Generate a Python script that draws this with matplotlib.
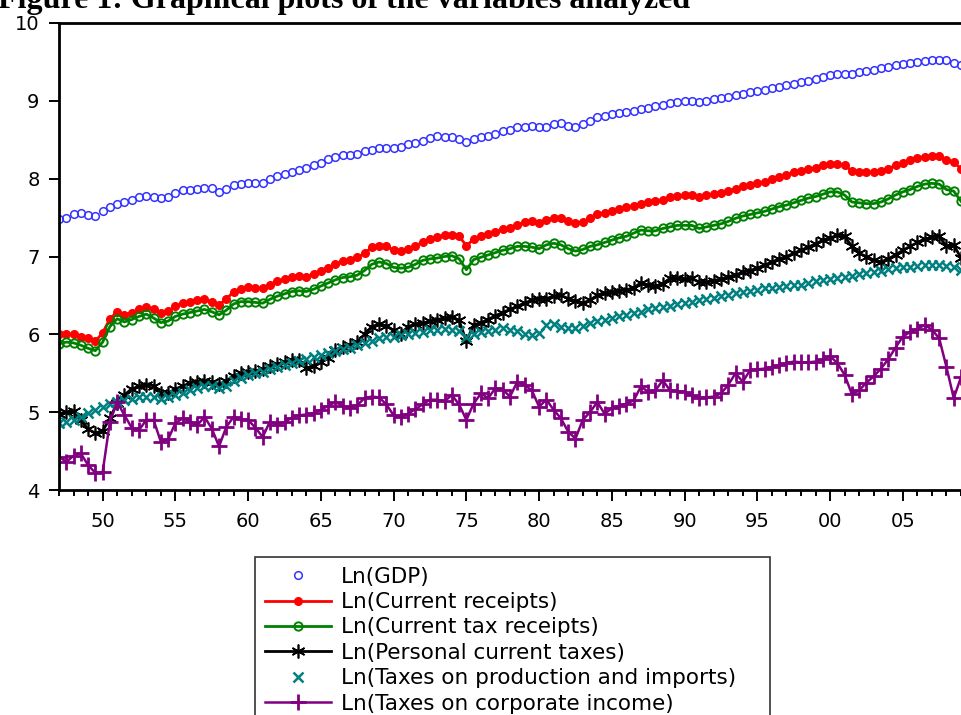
import matplotlib
matplotlib.use("Agg")
import matplotlib.pyplot as plt
import numpy as np

plt.rcParams['font.family'] = ['DejaVu Sans']

# half-yearly readings, 1947.0 to 2009.0
start_year = 1947.0

gdp = [7.48, 7.50, 7.54, 7.56, 7.53, 7.52, 7.58, 7.64, 7.68, 7.70,
       7.72, 7.76, 7.78, 7.77, 7.75, 7.77, 7.82, 7.85, 7.86, 7.87,
       7.88, 7.88, 7.83, 7.87, 7.92, 7.93, 7.95, 7.94, 7.94, 7.99,
       8.03, 8.06, 8.08, 8.11, 8.14, 8.17, 8.20, 8.25, 8.28, 8.30,
       8.30, 8.32, 8.35, 8.37, 8.39, 8.40, 8.40, 8.41, 8.44, 8.46,
       8.49, 8.52, 8.55, 8.54, 8.53, 8.51, 8.47, 8.51, 8.53, 8.55,
       8.58, 8.61, 8.63, 8.66, 8.67, 8.68, 8.67, 8.66, 8.70, 8.71,
       8.68, 8.67, 8.70, 8.74, 8.79, 8.81, 8.83, 8.85, 8.86, 8.87,
       8.89, 8.91, 8.93, 8.95, 8.97, 8.99, 9.00, 9.00, 8.98, 9.00,
       9.02, 9.04, 9.05, 9.07, 9.09, 9.11, 9.12, 9.14, 9.16, 9.18,
       9.20, 9.22, 9.24, 9.26, 9.28, 9.30, 9.33, 9.35, 9.35, 9.35,
       9.37, 9.38, 9.40, 9.42, 9.44, 9.46, 9.47, 9.48, 9.50, 9.51,
       9.52, 9.53, 9.52, 9.49, 9.46]

receipts = [6.00, 6.01, 6.00, 5.97, 5.95, 5.91, 6.02, 6.20, 6.29, 6.25,
            6.28, 6.32, 6.35, 6.32, 6.27, 6.30, 6.36, 6.40, 6.42, 6.44,
            6.45, 6.42, 6.38, 6.45, 6.55, 6.58, 6.61, 6.60, 6.59, 6.64,
            6.68, 6.71, 6.74, 6.75, 6.74, 6.78, 6.82, 6.85, 6.90, 6.94,
            6.96, 6.99, 7.04, 7.12, 7.14, 7.13, 7.08, 7.07, 7.09, 7.13,
            7.19, 7.22, 7.25, 7.27, 7.28, 7.26, 7.14, 7.22, 7.26, 7.29,
            7.32, 7.35, 7.37, 7.41, 7.44, 7.45, 7.43, 7.47, 7.50, 7.49,
            7.46, 7.43, 7.44, 7.49, 7.54, 7.56, 7.58, 7.61, 7.63, 7.65,
            7.68, 7.70, 7.71, 7.73, 7.76, 7.78, 7.79, 7.79, 7.77, 7.79,
            7.80, 7.82, 7.84, 7.87, 7.90, 7.92, 7.94, 7.96, 7.99, 8.02,
            8.05, 8.08, 8.10, 8.12, 8.14, 8.17, 8.19, 8.19, 8.17, 8.10,
            8.09, 8.08, 8.08, 8.10, 8.13, 8.17, 8.20, 8.24, 8.27, 8.28,
            8.29, 8.29, 8.24, 8.21, 8.13]

tax_receipts = [5.88, 5.90, 5.89, 5.86, 5.82, 5.79, 5.90, 6.10, 6.20, 6.16,
                6.19, 6.23, 6.26, 6.21, 6.15, 6.17, 6.23, 6.26, 6.28, 6.30,
                6.32, 6.29, 6.25, 6.31, 6.39, 6.42, 6.42, 6.41, 6.40, 6.45,
                6.49, 6.52, 6.55, 6.56, 6.55, 6.58, 6.62, 6.66, 6.70, 6.73,
                6.74, 6.76, 6.82, 6.90, 6.93, 6.91, 6.86, 6.85, 6.86, 6.90,
                6.95, 6.97, 6.98, 7.00, 7.01, 6.97, 6.83, 6.96, 6.99, 7.02,
                7.05, 7.08, 7.10, 7.13, 7.13, 7.12, 7.10, 7.15, 7.17, 7.15,
                7.10, 7.07, 7.09, 7.13, 7.15, 7.18, 7.21, 7.24, 7.26, 7.30,
                7.34, 7.33, 7.33, 7.36, 7.38, 7.40, 7.40, 7.40, 7.36, 7.38,
                7.40, 7.42, 7.45, 7.49, 7.52, 7.54, 7.56, 7.58, 7.61, 7.64,
                7.66, 7.69, 7.72, 7.75, 7.77, 7.80, 7.83, 7.83, 7.79, 7.70,
                7.69, 7.68, 7.68, 7.70, 7.74, 7.79, 7.83, 7.86, 7.90, 7.93,
                7.94, 7.93, 7.86, 7.84, 7.71]

personal = [4.98, 5.00, 5.01, 4.90, 4.78, 4.73, 4.76, 4.92, 5.12, 5.22,
            5.30, 5.33, 5.35, 5.34, 5.24, 5.24, 5.30, 5.33, 5.38, 5.39,
            5.40, 5.39, 5.36, 5.40, 5.47, 5.50, 5.52, 5.53, 5.55, 5.59,
            5.62, 5.64, 5.67, 5.67, 5.57, 5.59, 5.65, 5.70, 5.80, 5.84,
            5.86, 5.90, 6.00, 6.10, 6.13, 6.11, 6.05, 6.01, 6.10, 6.13,
            6.14, 6.17, 6.19, 6.21, 6.22, 6.18, 5.91, 6.12, 6.15, 6.19,
            6.24, 6.28, 6.32, 6.36, 6.40, 6.44, 6.46, 6.46, 6.49, 6.50,
            6.46, 6.43, 6.40, 6.44, 6.50, 6.53, 6.54, 6.56, 6.57, 6.60,
            6.66, 6.63, 6.62, 6.65, 6.72, 6.72, 6.71, 6.72, 6.67, 6.67,
            6.69, 6.71, 6.74, 6.76, 6.80, 6.82, 6.85, 6.89, 6.93, 6.97,
            7.00, 7.04, 7.08, 7.12, 7.16, 7.21, 7.24, 7.27, 7.26, 7.13,
            7.04, 7.00, 6.95, 6.93, 6.97, 7.02, 7.08, 7.13, 7.18, 7.22,
            7.25, 7.26, 7.13, 7.15, 6.98]

production = [4.86, 4.87, 4.90, 4.94, 4.99, 5.03, 5.06, 5.10, 5.13, 5.15,
              5.17, 5.19, 5.20, 5.20, 5.17, 5.19, 5.22, 5.25, 5.28, 5.31,
              5.33, 5.34, 5.31, 5.34, 5.40, 5.44, 5.48, 5.50, 5.52, 5.55,
              5.58, 5.61, 5.63, 5.66, 5.68, 5.71, 5.74, 5.76, 5.79, 5.81,
              5.83, 5.86, 5.89, 5.92, 5.95, 5.96, 5.97, 5.99, 6.00, 6.02,
              6.03, 6.05, 6.06, 6.07, 6.06, 6.04, 5.97, 6.00, 6.03, 6.04,
              6.06, 6.08, 6.06, 6.04, 6.00, 5.99, 6.02, 6.12, 6.13, 6.10,
              6.08, 6.08, 6.11, 6.14, 6.17, 6.19, 6.21, 6.23, 6.25, 6.28,
              6.29, 6.32, 6.34, 6.35, 6.37, 6.39, 6.40, 6.42, 6.44, 6.46,
              6.47, 6.49, 6.51, 6.53, 6.55, 6.56, 6.57, 6.59, 6.60, 6.61,
              6.62, 6.63, 6.63, 6.66, 6.68, 6.70, 6.71, 6.73, 6.74, 6.75,
              6.77, 6.79, 6.80, 6.82, 6.84, 6.85, 6.86, 6.87, 6.88, 6.89,
              6.89, 6.89, 6.88, 6.86, 6.83]

corporate = [4.43, 4.36, 4.44, 4.47, 4.32, 4.22, 4.23, 4.88, 5.13, 4.96,
             4.80, 4.77, 4.90, 4.90, 4.62, 4.65, 4.86, 4.92, 4.88, 4.83,
             4.94, 4.79, 4.56, 4.81, 4.94, 4.91, 4.90, 4.80, 4.68, 4.88,
             4.84, 4.87, 4.93, 4.96, 4.97, 4.99, 5.03, 5.08, 5.13, 5.08,
             5.05, 5.09, 5.18, 5.20, 5.19, 5.10, 4.96, 4.94, 4.98, 5.04,
             5.10, 5.16, 5.16, 5.14, 5.22, 5.10, 4.90, 5.11, 5.24, 5.18,
             5.31, 5.29, 5.20, 5.39, 5.35, 5.28, 5.07, 5.16, 5.03, 4.92,
             4.75, 4.66, 4.90, 5.00, 5.13, 4.98, 5.05, 5.08, 5.11, 5.15,
             5.33, 5.26, 5.28, 5.41, 5.28, 5.27, 5.26, 5.22, 5.18, 5.19,
             5.20, 5.24, 5.35, 5.50, 5.39, 5.54, 5.55, 5.56, 5.58, 5.60,
             5.63, 5.65, 5.64, 5.64, 5.65, 5.68, 5.72, 5.63, 5.48, 5.23,
             5.28, 5.38, 5.46, 5.56, 5.68, 5.83, 5.97, 6.03, 6.07, 6.12,
             6.06, 5.95, 5.58, 5.18, 5.45]

labels = ["Ln(GDP)", "Ln(Current receipts)", "Ln(Current tax receipts)",
          "Ln(Personal current taxes)", "Ln(Taxes on production and imports)",
          "Ln(Taxes on corporate income)"]

t = start_year + 0.5 * np.arange(len(gdp))

fig = plt.figure(figsize=(9.61, 7.15), dpi=100)
ax = fig.add_axes([59 / 961, 1 - 490 / 715, (961 - 59) / 961, 467 / 715])

ax.plot(t, gdp, ls='none', marker='o', ms=5.5, mfc='none', mec='#3333ff', mew=1.1, label=labels[0])
ax.plot(t, receipts, color='#ff0000', lw=2, marker='o', ms=5.5, mec='#ff0000', label=labels[1])
ax.plot(t, tax_receipts, color='#008000', lw=2, marker='o', ms=6, mfc='none', mec='#008000', mew=1.4, label=labels[2])
ax.plot(t, personal, color='black', lw=2, marker=(6, 2, 0), ms=10, mew=1.2, label=labels[3])
ax.plot(t, production, ls='none', marker='x', ms=6.5, mec='#008080', mew=1.8, label=labels[4])
ax.plot(t, corporate, color='#800080', lw=1.8, marker='+', ms=11, mew=2, label=labels[5])

ax.set_xlim(1947, 2009)
ax.set_ylim(4, 10)
ax.set_yticks([4, 5, 6, 7, 8, 9, 10])
ax.set_yticklabels(['4', '5', '6', '7', '8', '9', '10'])
major_years = np.arange(1950, 2009, 5)
ax.set_xticks(major_years)
ax.set_xticklabels(['%02d' % (y % 100) for y in major_years])
ax.set_xticks(np.arange(1947, 2010, 1), minor=True)
ax.tick_params(axis='both', which='major', labelsize=14, width=1.4, length=8, pad=8, direction='out')
ax.tick_params(axis='x', which='minor', width=1.4, length=4.5, direction='out')
ax.tick_params(axis='y', which='major', length=7, pad=7)
for s in ['left', 'bottom', 'top']:
    ax.spines[s].set_linewidth(2)
ax.spines['right'].set_visible(False)

leg = fig.legend(loc='upper left', bbox_to_anchor=(255 / 961, 1 - 557 / 715, 515 / 961, 0.0),
                 mode='expand', fontsize=15.5, frameon=True, fancybox=False,
                 edgecolor='black', handlelength=3.1, labelspacing=0.25,
                 borderpad=0.45, handletextpad=0.45, borderaxespad=0)
leg.get_frame().set_linewidth(1.2)

fig.text(-0.002, 1 - 8 / 715, "Figure 1: Graphical plots of the variables analyzed",
         family=['Liberation Serif'], fontweight='bold', fontsize=23, va='baseline')

fig.savefig("out.png", dpi=100)
